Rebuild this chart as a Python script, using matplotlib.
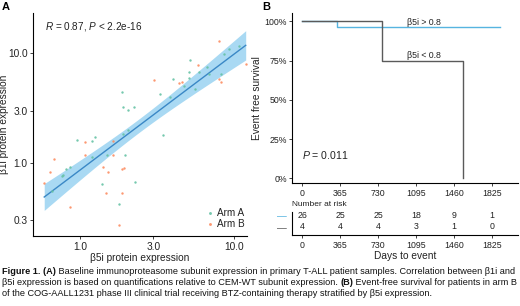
import numpy as np
import matplotlib
matplotlib.use("Agg")
import matplotlib.pyplot as plt

plt.rcParams['font.family'] = ['Liberation Sans', 'DejaVu Sans']
plt.rcParams['mathtext.fontset'] = 'custom'
plt.rcParams['mathtext.rm'] = 'Liberation Sans'
plt.rcParams['mathtext.it'] = 'Liberation Sans:italic'
plt.rcParams['mathtext.bf'] = 'Liberation Sans:bold'

# ---------------- Data: panel A (beta5i vs beta1i) ----------------
armA_x = [1.87, 1.89, 2.23, 2.05, 3.31, 3.86, 4.04, 4.73, 5.13, 5.10, 5.19, 5.58,
          5.94, 6.68, 6.91, 8.20, 8.65, 9.25, 10.8, 3.47, 0.957, 1.20, 1.25, 2.06,
          1.90, 1.50, 1.97, 1.19, 0.808, 0.864, 0.761, 0.776, 0.656, 1.39, 2.26, 1.80]
armA_y = [4.39, 3.20, 3.23, 3.03, 4.24, 3.98, 5.84, 5.05, 5.90, 6.75, 8.58, 4.68,
          6.75, 7.51, 6.44, 6.41, 9.75, 10.9, 11.5, 1.80, 1.62, 1.58, 1.73, 2.01,
          1.82, 1.17, 1.17, 1.13, 0.882, 0.916, 0.762, 0.778, 0.560, 0.644, 0.665, 0.421]
armB_x = [3.02, 4.39, 4.57, 5.81, 8.03, 8.03, 8.17, 11.9, 1.07, 1.65, 1.63, 1.07,
          0.681, 0.640, 1.42, 1.51, 1.88, 1.94, 0.586, 1.47, 1.88, 0.865, 1.80]
armB_y = [5.65, 5.30, 5.45, 7.74, 12.8, 5.86, 5.42, 7.97, 1.54, 1.60, 1.19, 1.17,
          1.08, 0.834, 0.914, 0.834, 0.873, 0.895, 0.654, 0.539, 0.533, 0.398, 0.272]
corr_label = r"$R$ = 0.87, $P$ < 2.2e-16"
a_xticks = [1.0, 3.0, 10.0]
a_yticks = [0.3, 1.0, 3.0, 10.0]

# ---------------- Data: panel B (Kaplan-Meier) ----------------
hi_t = [0, 336, 1900]
hi_s = [1.0, 25 / 26, 25 / 26]
lo_t = [0, 763, 1548]
lo_s = [1.0, 0.75, 0.0]
day_ticks = [0, 365, 730, 1095, 1460, 1825]
risk_hi = [26, 25, 25, 18, 9, 1]
risk_lo = [4, 4, 4, 3, 1, 0]
pval_label = r"$P$ = 0.011"

# caption: list of lines, each a list of (text, bold)
caption = [
    [("Figure 1. (A)", True),
     (" Baseline immunoproteasome subunit expression in primary T-ALL patient samples. Correlation between β1i and", False)],
    [("β5i expression is based on quantifications relative to CEM-WT subunit expression. ", False),
     ("(B)", True),
     (" Event-free survival for patients in arm B", False)],
    [("of the COG-AALL1231 phase III clinical trial receiving BTZ-containing therapy stratified by β5i expression.", False)],
]

W, H = 520, 306
fig = plt.figure(figsize=(W / 100, H / 100), dpi=100)


def box(l, t, r, b):
    return [l / W, 1 - b / H, (r - l) / W, (b - t) / H]


GREEN = '#66C2A5'
ORANGE = '#FC8D62'
CYAN = '#56B4E0'
GRAY = '#5a5a5a'
TXT = '#222222'

# ---------------- Panel A ----------------
ax = fig.add_axes(box(33, 13, 247, 236))
ax.set_xscale('log')
ax.set_yscale('log')

allx = np.log10(np.array(armA_x + armB_x))
ally = np.log10(np.array(armA_y + armB_y))
n = len(allx)
b1, b0 = np.polyfit(allx, ally, 1)
xs = np.linspace(allx.min(), allx.max(), 100)
fit = b0 + b1 * xs
resid = ally - (b0 + b1 * allx)
s = np.sqrt(np.sum(resid ** 2) / (n - 2))
sxx = np.sum((allx - allx.mean()) ** 2)
se = s * np.sqrt(1 / n + (xs - allx.mean()) ** 2 / sxx)
tq = 2.0
ax.fill_between(10 ** xs, 10 ** (fit - tq * se), 10 ** (fit + tq * se),
                color='#8ccdef', alpha=0.75, lw=0, zorder=1)
ax.plot(10 ** xs, 10 ** fit, color='#3a88c6', lw=1.0, zorder=2)

ax.scatter(armA_x, armA_y, s=3, color=GREEN, alpha=0.9, lw=0, zorder=3, label='Arm A')
ax.scatter(armB_x, armB_y, s=3, color=ORANGE, alpha=0.9, lw=0, zorder=3, label='Arm B')

ax.set_xlim(10 ** -0.305, 10 ** 1.084)
ax.set_ylim(10 ** -0.664, 10 ** 1.364)
ax.set_xticks(a_xticks)
ax.set_xticklabels([f"{v:.1f}" for v in a_xticks])
ax.set_yticks(a_yticks)
ax.set_yticklabels([f"{v:.1f}" for v in a_yticks])
ax.minorticks_off()
for sp in ['top', 'right']:
    ax.spines[sp].set_visible(False)
for sp in ['left', 'bottom']:
    ax.spines[sp].set_linewidth(0.8)
ax.tick_params(labelsize=7.3, colors=TXT, length=2.5, width=0.6, pad=1.5)
ax.set_xlabel("β5i protein expression", fontsize=7.3, color=TXT, labelpad=1)
ax.set_ylabel("β1i protein expression", fontsize=7.3, color=TXT)
ax.yaxis.set_label_coords(-0.112, 0.5)
ax.text(0.055, 0.94, corr_label, transform=ax.transAxes, fontsize=7.2, color=TXT,
        va='center', ha='left')
leg = ax.legend(loc='lower right', bbox_to_anchor=(1.02, 0.0), frameon=False,
                fontsize=7.2, handletextpad=0.2, labelspacing=0.15, markerscale=1.2,
                borderpad=0.2, handlelength=1.0)
for t in leg.get_texts():
    t.set_color(TXT)

fig.text(2 / W, 1 - 7 / H, "A", fontsize=8, fontweight='bold', va='center', ha='left')
fig.text(262 / W, 1 - 7 / H, "B", fontsize=8, fontweight='bold', va='center', ha='left')

# ---------------- Panel B KM ----------------
xlo, xhi = -96, 2074
kx = fig.add_axes(box(292.3, 13, 518, 183.3))
kx.step(hi_t, hi_s, where='post', color=CYAN, lw=1.0)
kx.step(lo_t, lo_s, where='post', color=GRAY, lw=1.0)
kx.set_xlim(xlo, xhi)
kx.set_ylim(-0.032, 1.053)
kx.set_xticks(day_ticks)
kx.set_yticks([0, 0.25, 0.5, 0.75, 1.0])
kx.set_yticklabels(["0%", "25%", "50%", "75%", "100%"])
for sp in ['top', 'right']:
    kx.spines[sp].set_visible(False)
for sp in ['left', 'bottom']:
    kx.spines[sp].set_linewidth(0.8)
kx.tick_params(labelsize=6.3, colors=TXT, length=2.5, width=0.6, pad=1.5)
kx.set_ylabel("Event free survival", fontsize=7.3, color=TXT, labelpad=2)
kx.text(1004, 25 / 26 + 0.005, "β5i > 0.8", fontsize=6.3, color=TXT, va='bottom', ha='left')
kx.text(1004, 0.75 + 0.005, "β5i < 0.8", fontsize=6.3, color=TXT, va='bottom', ha='left')
kx.text(0, 0.15, pval_label, fontsize=7.6, color=TXT, va='center', ha='left')

# ---------------- Risk table ----------------
tx = fig.add_axes(box(292.3, 211.5, 518, 235))
tx.set_xlim(xlo, xhi)
tx.set_ylim(-0.71, 1.34)
for d, a, b in zip(day_ticks, risk_hi, risk_lo):
    tx.text(d, 1, str(a), fontsize=6.3, color=TXT, ha='center', va='center')
    tx.text(d, 0, str(b), fontsize=6.3, color=TXT, ha='center', va='center')
tx.set_xticks(day_ticks)
tx.set_yticks([1, 0])
tx.set_yticklabels(["—", "—"])
for lab, c in zip(tx.get_yticklabels(), [CYAN, GRAY]):
    lab.set_color(c)
tx.tick_params(axis='y', length=0, pad=4, labelsize=7)
tx.tick_params(axis='x', labelsize=6.3, colors=TXT, length=2.5, width=0.6, pad=1.5)
for sp in ['top', 'right']:
    tx.spines[sp].set_visible(False)
for sp in ['left', 'bottom']:
    tx.spines[sp].set_linewidth(0.8)
tx.set_xlabel("Days to event", fontsize=7.3, color=TXT, labelpad=1)
fig.text(291.7 / W, 1 - 204 / H, "Number at risk", fontsize=6.0, color=TXT, va='center', ha='left')

# ---------------- Caption ----------------
renderer = fig.canvas.get_renderer()
for i, pieces in enumerate(caption):
    xpix = 2.0
    ypix = 273.5 + 11.3 * i
    for txt, bold in pieces:
        t = fig.text(xpix / W, 1 - ypix / H, txt, fontsize=6.6, color='#111111',
                     fontweight='bold' if bold else 'normal', va='baseline', ha='left')
        bb = t.get_window_extent(renderer=renderer)
        xpix += bb.width

fig.savefig("out.png", dpi=100)
